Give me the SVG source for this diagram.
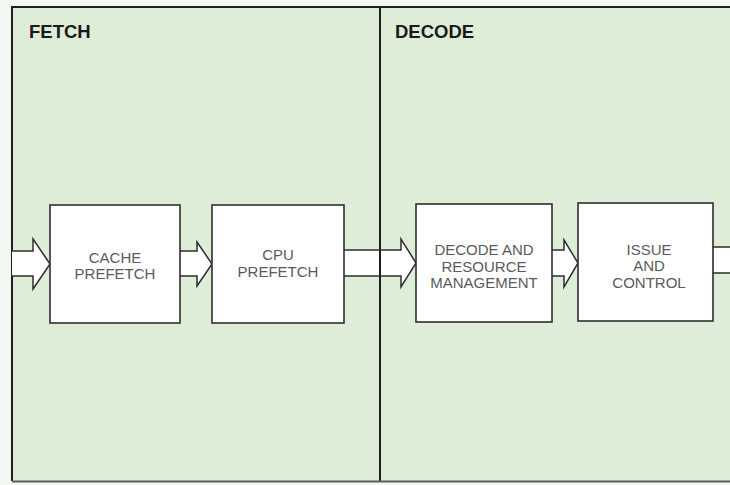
<svg xmlns="http://www.w3.org/2000/svg" width="730" height="485" viewBox="0 0 730 485">
  <style>
    .panel { fill: #deedd8; }
    .frame { fill: none; stroke: #1e1e1e; stroke-width: 2; }
    .box { fill: #ffffff; stroke: #2e2e2e; stroke-width: 1.6; }
    .arrow { fill: #ffffff; stroke: #2e2e2e; stroke-width: 1.5; stroke-linejoin: miter; }
    .stage { font-family: "Liberation Sans", Arial, sans-serif; font-weight: bold; font-size: 18.5px; fill: #1a1a1a; }
    .label { font-family: "Liberation Sans", Arial, sans-serif; font-size: 15px; fill: #5a5a5a; text-anchor: middle; }
  </style>

  <!-- page background and the two stage panels -->
  <rect x="0" y="0" width="730" height="485" fill="#f3f7f1"/>
  <g id="stage-fetch">
    <rect class="panel" x="12" y="7" width="368" height="474"/>
    <text class="stage" x="29" y="38">FETCH</text>
  </g>
  <g id="stage-decode">
    <rect class="panel" x="380" y="7" width="352" height="474"/>
    <text class="stage" x="395" y="38">DECODE</text>
  </g>

  <!-- frame lines (the panel runs off the right edge) -->
  <path class="frame" d="M12 481 V7 H740"/>
  <path class="frame" d="M380 7 V481"/>
  <path d="M12 481.5 H740" stroke="#5a5f5a" stroke-width="2" fill="none"/>

  <!-- block arrows between the units -->
  <g id="connectors">
    <path class="arrow" d="M12 251 H33 V239 L50 264 L33 289 V276 H12"/>
    <path class="arrow" d="M180 251 H197 V242 L212 264 L197 286 V276 H180"/>
    <path class="arrow" d="M344 250 H401 V239 L416 263 L401 287 V276 H344"/>
    <path class="arrow" d="M552 250 H564 V240 L578 263 L564 287 V276 H552"/>
    <rect x="713.8" y="247.8" width="20" height="24.4" fill="#ffffff"/>
    <path d="M713 247 H740 M740 273 H713" stroke="#2e2e2e" stroke-width="1.5" fill="none"/>
    <path d="M380 250 V276" stroke="#1e1e1e" stroke-width="2"/>
  </g>

  <!-- processing units -->
  <g id="cache-prefetch">
    <rect class="box" x="50" y="205" width="130" height="118"/>
    <text class="label" x="115" y="263">CACHE</text>
    <text class="label" x="115" y="279">PREFETCH</text>
  </g>
  <g id="cpu-prefetch">
    <rect class="box" x="212" y="205" width="132" height="118"/>
    <text class="label" x="278" y="260">CPU</text>
    <text class="label" x="278" y="277">PREFETCH</text>
  </g>
  <g id="decode-resource">
    <rect class="box" x="416" y="204" width="136" height="118"/>
    <text class="label" x="484" y="255">DECODE AND</text>
    <text class="label" x="484" y="272">RESOURCE</text>
    <text class="label" x="484" y="288">MANAGEMENT</text>
  </g>
  <g id="issue-control">
    <rect class="box" x="578" y="203" width="135" height="118"/>
    <text class="label" x="649" y="255">ISSUE</text>
    <text class="label" x="649" y="271">AND</text>
    <text class="label" x="649" y="288">CONTROL</text>
  </g>
</svg>
